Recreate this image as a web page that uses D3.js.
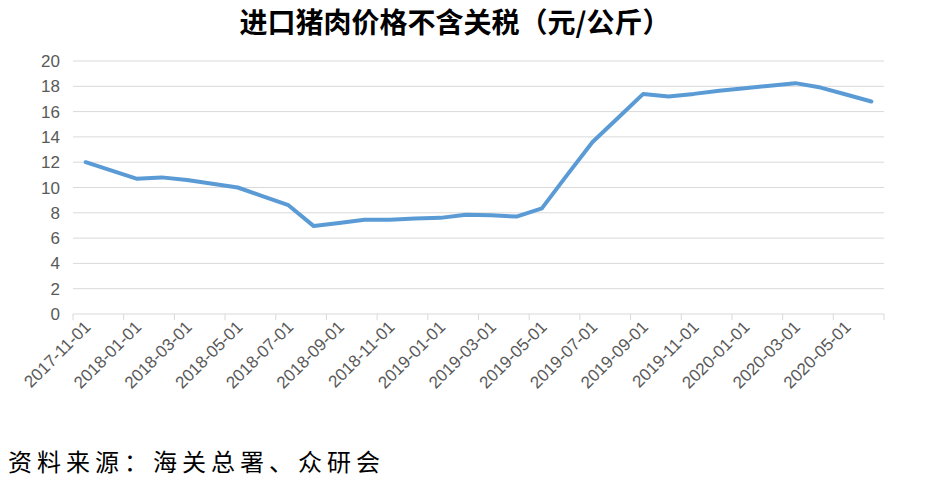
<!DOCTYPE html>
<html><head><meta charset="utf-8">
<script src="https://cdn.jsdelivr.net/npm/d3@7"></script>
<style>body{margin:0;background:#fff}</style>
</head><body><div id="chart"></div>
<script>
const months = ["2017-11-01","2017-12-01","2018-01-01","2018-02-01","2018-03-01","2018-04-01","2018-05-01","2018-06-01",
  "2018-07-01","2018-08-01","2018-09-01","2018-10-01","2018-11-01","2018-12-01","2019-01-01","2019-02-01",
  "2019-03-01","2019-04-01","2019-05-01","2019-06-01","2019-07-01","2019-08-01","2019-09-01","2019-10-01",
  "2019-11-01","2019-12-01","2020-01-01","2020-02-01","2020-03-01","2020-04-01","2020-05-01","2020-06-01"];
const prices = [12.0,11.35,10.7,10.8,10.6,10.3,10.0,9.3,8.6,6.95,7.2,7.45,7.45,7.55,7.6,7.85,
  7.8,7.7,8.35,11.0,13.6,15.5,17.4,17.2,17.4,17.65,17.85,18.05,18.25,17.9,17.35,16.8];
const yTicks = [0,2,4,6,8,10,12,14,16,18,20];

var width = 939, height = 486;
var svg = d3.select("#chart").append("svg").attr("width", width).attr("height", height);

var x = d3.scaleBand().domain(months).range([73, 884]);
var y = d3.scaleLinear().domain([0, 20]).range([314, 61]);

// gridlines
svg.append("g").selectAll("line").data(yTicks.slice(1)).enter().append("line")
  .attr("x1", 73).attr("x2", 884).attr("y1", d => y(d)).attr("y2", d => y(d))
  .attr("stroke", "#d9d9d9").attr("stroke-width", 1);

// y axis labels
svg.append("g").selectAll("text").data(yTicks).enter().append("text")
  .attr("x", 60).attr("y", d => y(d) + 6).attr("text-anchor", "end")
  .style("font", "17px 'Liberation Sans', sans-serif").attr("fill", "#595959").text(d => d);

// x axis line + ticks every 2 months
svg.append("line").attr("x1", 73).attr("x2", 884).attr("y1", 314).attr("y2", 314).attr("stroke", "#d9d9d9");
var tickIdx = d3.range(0, months.length + 1, 2);
svg.append("g").selectAll("line").data(tickIdx).enter().append("line")
  .attr("x1", d => 73 + d * x.step()).attr("x2", d => 73 + d * x.step())
  .attr("y1", 314).attr("y2", 320).attr("stroke", "#d9d9d9");

svg.append("g").selectAll("text").data(months.filter((d, i) => i % 2 === 0)).enter().append("text")
  .attr("transform", d => "translate(" + (x(d) + x.bandwidth() / 2 + 6) + ",328) rotate(-45)")
  .attr("text-anchor", "end")
  .style("font", "17px 'Liberation Sans', sans-serif").attr("fill", "#595959").text(d => d);

// line
var line = d3.line().x((d, i) => x(months[i]) + x.bandwidth() / 2).y(d => y(d));
svg.append("path").datum(prices).attr("d", line).attr("fill", "none")
  .attr("stroke", "#5b9bd5").attr("stroke-width", 4).attr("stroke-linejoin", "round").attr("stroke-linecap", "round");

// title and source
svg.append("text").attr("x", 455).attr("y", 33).attr("text-anchor", "middle")
  .style("font", "bold 28px 'Noto Sans CJK SC', sans-serif").attr("fill", "#000").text("进口猪肉价格不含关税（元/公斤）");
svg.append("text").attr("x", 8).attr("y", 471).attr("letter-spacing", "5px")
  .style("font", "24px 'Noto Sans CJK SC', sans-serif").attr("fill", "#000").text("资料来源：海关总署、众研会");
</script></body></html>
